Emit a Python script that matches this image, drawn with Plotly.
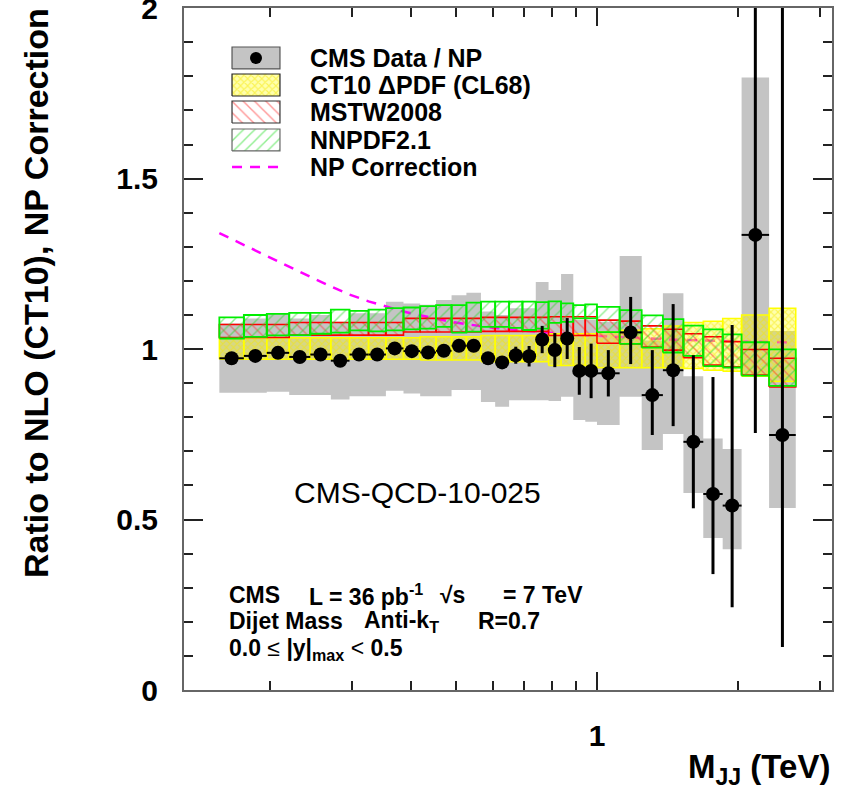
import numpy as np
import plotly.graph_objects as go

# ---------------- data ----------------
# dijet mass bin edges (TeV)
edges = [0.156, 0.176, 0.197, 0.220, 0.244, 0.270, 0.296, 0.325, 0.354, 0.386,
         0.419, 0.453, 0.489, 0.526, 0.565, 0.606, 0.649, 0.693, 0.740, 0.788,
         0.838, 0.890, 0.944, 1.000, 1.118, 1.246, 1.383, 1.530, 1.687, 1.856,
         2.037, 2.332, 2.659]

data_ratio = [0.973, 0.980, 0.989, 0.977, 0.984, 0.966, 0.984, 0.984, 1.002, 0.994,
              0.990, 0.995, 1.010, 1.010, 0.973, 0.961, 0.982, 0.979, 1.028, 0.997,
              1.031, 0.936, 0.936, 0.929, 1.049, 0.865, 0.938, 0.728, 0.575, 0.541,
              1.335, 0.748]
stat_up = [0.006, 0.006, 0.006, 0.006, 0.006, 0.006, 0.006, 0.006, 0.006, 0.006,
           0.006, 0.006, 0.008, 0.010, 0.012, 0.015, 0.025, 0.030, 0.040, 0.050,
           0.060, 0.070, 0.080, 0.068, 0.104, 0.132, 0.194, 0.254, 0.343, 0.530,
           0.900, 1.500]
stat_dn = [0.006, 0.006, 0.006, 0.006, 0.006, 0.006, 0.006, 0.006, 0.006, 0.006,
           0.006, 0.006, 0.008, 0.010, 0.012, 0.015, 0.025, 0.030, 0.040, 0.050,
           0.060, 0.070, 0.080, 0.068, 0.093, 0.117, 0.164, 0.195, 0.235, 0.298,
           0.581, 0.622]
sys_lo = [0.872, 0.872, 0.875, 0.865, 0.865, 0.852, 0.862, 0.862, 0.878, 0.870,
          0.862, 0.862, 0.880, 0.880, 0.845, 0.831, 0.850, 0.850, 0.850, 0.848,
          0.860, 0.792, 0.787, 0.777, 0.860, 0.704, 0.751, 0.578, 0.446, 0.413,
          0.921, 0.534]
sys_hi = [1.075, 1.090, 1.105, 1.090, 1.100, 1.080, 1.105, 1.105, 1.139, 1.134,
          1.130, 1.144, 1.158, 1.165, 1.110, 1.100, 1.120, 1.120, 1.197, 1.173,
          1.220, 1.085, 1.085, 1.080, 1.273, 1.025, 1.164, 0.920, 0.738, 0.707,
          1.797, 1.053]
ct10_lo = [0.970, 0.970, 0.970, 0.970, 0.970, 0.970, 0.970, 0.970, 0.970, 0.970,
           0.968, 0.968, 0.968, 0.968, 0.963, 0.963, 0.963, 0.963, 0.963, 0.952,
           0.952, 0.952, 0.952, 0.945, 0.945, 0.945, 0.945, 0.943, 0.938, 0.935,
           0.920, 0.905]
ct10_hi = [1.033, 1.033, 1.033, 1.033, 1.033, 1.033, 1.033, 1.033, 1.033, 1.033,
           1.036, 1.036, 1.036, 1.036, 1.040, 1.040, 1.040, 1.040, 1.040, 1.045,
           1.045, 1.045, 1.045, 1.050, 1.055, 1.060, 1.068, 1.078, 1.082, 1.090,
           1.100, 1.120]
mstw_lo = [1.034, 1.034, 1.034, 1.041, 1.041, 1.041, 1.041, 1.041, 1.041, 1.050,
           1.050, 1.050, 1.050, 1.050, 1.052, 1.052, 1.052, 1.052, 1.052, 1.040,
           1.040, 1.040, 1.040, 1.017, 1.015, 1.006, 0.997, 0.975, 0.953, 0.948,
           0.924, 0.889]
mstw_hi = [1.072, 1.072, 1.072, 1.078, 1.078, 1.078, 1.078, 1.078, 1.078, 1.090,
           1.090, 1.090, 1.090, 1.090, 1.093, 1.093, 1.093, 1.093, 1.093, 1.095,
           1.095, 1.095, 1.095, 1.085, 1.082, 1.068, 1.058, 1.045, 1.036, 1.022,
           0.999, 0.973]
nnpdf_lo = [1.031, 1.036, 1.040, 1.041, 1.045, 1.048, 1.055, 1.052, 1.055, 1.058,
            1.060, 1.065, 1.048, 1.051, 1.065, 1.065, 1.062, 1.056, 1.060, 1.077,
            1.080, 1.090, 1.090, 1.050, 1.015, 1.004, 0.990, 0.980, 0.950, 0.946,
            0.922, 0.892]
nnpdf_hi = [1.093, 1.100, 1.103, 1.106, 1.106, 1.116, 1.112, 1.116, 1.120, 1.122,
            1.126, 1.129, 1.129, 1.136, 1.139, 1.139, 1.139, 1.139, 1.138, 1.140,
            1.134, 1.129, 1.131, 1.124, 1.114, 1.099, 1.088, 1.069, 1.058, 1.043,
            1.020, 0.999]
np_corr = [1.340, 1.305, 1.272, 1.242, 1.212, 1.184, 1.160, 1.140, 1.124, 1.110,
           1.099, 1.089, 1.080, 1.073, 1.067, 1.062, 1.058, 1.054, 1.051, 1.048,
           1.045, 1.043, 1.040, 1.038, 1.035, 1.032, 1.029, 1.027, 1.025, 1.023,
           1.022, 1.021, 1.020]

legend_labels = ["CMS Data / NP", "CT10 \u0394PDF (CL68)", "MSTW2008", "NNPDF2.1", "NP Correction"]
y_ticks = [0, 0.5, 1, 1.5, 2]
y_ticktext = ["0", "0.5", "1", "1.5", "2"]
x_ticks = [1]
x_ticktext = ["1"]
x_minor = [0.2, 0.3, 0.4, 0.5, 0.6, 0.7, 0.8, 0.9, 2, 3]

# ---------------- helpers ----------------
FONT = "Liberation Sans"
CLEAR = "rgba(255,255,255,0)"
lo_e = np.array(edges[:-1])
hi_e = np.array(edges[1:])
centers = np.sqrt(lo_e * hi_e)


def boxes(lo_list, hi_list):
    xs, ys = [], []
    for i in range(len(lo_list)):
        x0, x1 = edges[i], edges[i + 1]
        xs += [x0, x1, x1, x0, x0, None]
        ys += [lo_list[i], lo_list[i], hi_list[i], hi_list[i], lo_list[i], None]
    return xs, ys


fig = go.Figure()

# systematic (gray) boxes
gx, gy = boxes(sys_lo, sys_hi)
fig.add_trace(go.Scatter(x=gx, y=gy, mode="lines", fill="toself", fillcolor="#c4c4c4",
                         line=dict(width=0, color="#c4c4c4"), hoverinfo="skip", showlegend=False))

# NP correction (drawn beneath the PDF bands)
np_line = dict(color="#ff00ff", width=2.5, dash="10px,8px")
fig.add_trace(go.Scatter(x=edges, y=np_corr, mode="lines", line=np_line,
                         hoverinfo="skip", showlegend=False))

# CT10 yellow band
yx, yy = boxes(ct10_lo, ct10_hi)
yellow_fill = "rgba(255,255,0,0.32)"
yellow_pat = dict(shape="x", size=5, solidity=0.4, fgcolor="#f5e800", fillmode="overlay")
fig.add_trace(go.Scatter(x=yx, y=yy, mode="lines", fill="toself",
                         fillcolor=yellow_fill, fillpattern=yellow_pat,
                         line=dict(width=1.5, color="#ffff00"), hoverinfo="skip", showlegend=False))

# MSTW red band
rx, ry = boxes(mstw_lo, mstw_hi)
red_pat = dict(shape="\\", size=8, solidity=0.18, fgcolor="#ff3030", bgcolor=CLEAR)
fig.add_trace(go.Scatter(x=rx, y=ry, mode="lines", fill="toself", fillcolor=CLEAR, fillpattern=red_pat,
                         line=dict(width=1.6, color="#ff0000"), hoverinfo="skip", showlegend=False))

# NNPDF green band
nx, ny = boxes(nnpdf_lo, nnpdf_hi)
green_pat = dict(shape="/", size=8, solidity=0.18, fgcolor="#22dd22", bgcolor=CLEAR)
fig.add_trace(go.Scatter(x=nx, y=ny, mode="lines", fill="toself", fillcolor=CLEAR, fillpattern=green_pat,
                         line=dict(width=1.8, color="#00ee00"), hoverinfo="skip", showlegend=False))

# data points
ratio = np.array(data_ratio)
fig.add_trace(go.Scatter(
    x=centers, y=ratio, mode="markers",
    marker=dict(color="black", size=14),
    error_y=dict(type="data", symmetric=False, array=stat_up, arrayminus=stat_dn,
                 color="black", thickness=3, width=0),
    error_x=dict(type="data", symmetric=False, array=hi_e - centers, arrayminus=centers - lo_e,
                 color="black", thickness=2, width=0),
    hoverinfo="skip", showlegend=False))

# ---------------- hand-made legend (on an overlay axis in plot fractions) ----------------
sw_x0, sw_x1 = 0.0741, 0.1481
row_y = [0.9267, 0.8871, 0.8475, 0.8065, 0.7669]
half_h = 0.0161


def swatch(yc):
    return ([sw_x0, sw_x1, sw_x1, sw_x0, sw_x0], [yc - half_h, yc - half_h, yc + half_h, yc + half_h, yc - half_h])


sx, sy = swatch(row_y[0])
fig.add_trace(go.Scatter(x=sx, y=sy, xaxis="x2", yaxis="y2", mode="lines", fill="toself",
                         fillcolor="#c4c4c4", line=dict(color="#555", width=1.2),
                         hoverinfo="skip", showlegend=False))
fig.add_trace(go.Scatter(x=[(sw_x0 + sw_x1) / 2], y=[row_y[0]], xaxis="x2", yaxis="y2", mode="markers",
                         marker=dict(color="black", size=12), hoverinfo="skip", showlegend=False))
sx, sy = swatch(row_y[1])
fig.add_trace(go.Scatter(x=sx, y=sy, xaxis="x2", yaxis="y2", mode="lines", fill="toself",
                         fillcolor=yellow_fill, fillpattern=yellow_pat,
                         line=dict(color="#222", width=1.2), hoverinfo="skip", showlegend=False))
sx, sy = swatch(row_y[2])
fig.add_trace(go.Scatter(x=sx, y=sy, xaxis="x2", yaxis="y2", mode="lines", fill="toself",
                         fillcolor=CLEAR, fillpattern=red_pat, line=dict(color="#333", width=1.2),
                         hoverinfo="skip", showlegend=False))
sx, sy = swatch(row_y[3])
fig.add_trace(go.Scatter(x=sx, y=sy, xaxis="x2", yaxis="y2", mode="lines", fill="toself",
                         fillcolor=CLEAR, fillpattern=green_pat, line=dict(color="#666", width=1.2),
                         hoverinfo="skip", showlegend=False))
fig.add_trace(go.Scatter(x=[sw_x0, sw_x1], y=[row_y[4], row_y[4]], xaxis="x2", yaxis="y2", mode="lines",
                         line=np_line, hoverinfo="skip", showlegend=False))

annotations = []
for lab, yc in zip(legend_labels, row_y):
    annotations.append(dict(x=0.191, y=yc, xref="paper", yref="paper", text="<b>%s</b>" % lab,
                            showarrow=False, xanchor="left", yanchor="middle",
                            font=dict(family=FONT, size=25, color="black")))

# info text: (text, x, y, anchor)
info = [
    ("<b>CMS</b>", 0.0664, 0.1400, "left"),
    ("<b>L = 36 pb<sup>-1</sup></b>", 0.1898, 0.1400, "left"),
    ("<b>\u221as</b>", 0.392, 0.1400, "left"),
    ("<b>= 7 TeV</b>", 0.6188, 0.1400, "right"),
    ("<b>Dijet Mass</b>", 0.0664, 0.1005, "left"),
    ("<b>Anti-k<sub>T</sub></b>", 0.2747, 0.1005, "left"),
    ("<b>R=0.7</b>", 0.5525, 0.1005, "right"),
    ("<b>0.0</b> \u2264 <b>|y|<sub>max</sub></b> &lt; <b>0.5</b>", 0.0664, 0.0600, "left"),
]
for t, x, y, anc in info:
    annotations.append(dict(x=x, y=y, xref="paper", yref="paper", text=t, showarrow=False,
                            xanchor=anc, yanchor="middle",
                            font=dict(family=FONT, size=23, color="black")))

annotations.append(dict(x=0.3596, y=0.2903, xref="paper", yref="paper", text="CMS-QCD-10-025",
                        showarrow=False, xanchor="center", yanchor="middle",
                        font=dict(family=FONT, size=30, color="black")))
annotations.append(dict(x=1.0, y=-0.116, xref="paper", yref="paper", text="<b>M<sub>JJ</sub> (TeV)</b>",
                        showarrow=False, xanchor="right", yanchor="middle",
                        font=dict(family=FONT, size=33, color="black")))
annotations.append(dict(x=-0.2284, y=0.582, xref="paper", yref="paper",
                        text="<b>Ratio to NLO (CT10), NP Correction</b>", textangle=-90,
                        showarrow=False, xanchor="center", yanchor="middle",
                        font=dict(family=FONT, size=34, color="black")))

fig.update_layout(
    width=853, height=791,
    margin=dict(l=184, r=21, t=8, b=101, autoexpand=False),
    paper_bgcolor="white", plot_bgcolor="white",
    showlegend=False,
    xaxis=dict(type="log", range=[np.log10(0.1311), np.log10(3.178)], automargin=False,
               tickmode="array", tickvals=x_ticks, ticktext=["<b>%s</b>" % t for t in x_ticktext],
               ticks="inside", ticklen=18, tickwidth=2, tickcolor="#222",
               ticklabelstandoff=18,
               minor=dict(tickvals=x_minor, ticks="inside", ticklen=9, tickwidth=1.5, tickcolor="#222"),
               showline=True, linecolor="#666", linewidth=2, mirror="ticks",
               showgrid=False, zeroline=False,
               tickfont=dict(family=FONT, size=30, color="black")),
    yaxis=dict(range=[0, 2.0005], automargin=False, tickmode="array", tickvals=y_ticks,
               ticktext=["<b>%s</b>" % t for t in y_ticktext],
               ticks="inside", ticklen=19, tickwidth=2, tickcolor="#222",
               ticklabelstandoff=18, ticklabeloverflow="allow",
               minor=dict(dtick=0.1, tick0=0, ticks="inside", ticklen=9, tickwidth=1.5, tickcolor="#222"),
               showline=True, linecolor="#666", linewidth=2, mirror="ticks",
               showgrid=False, zeroline=False,
               tickfont=dict(family=FONT, size=30, color="black")),
    xaxis2=dict(overlaying="x", anchor="y2", range=[0, 1], visible=False, fixedrange=True),
    yaxis2=dict(overlaying="y", anchor="x2", range=[0, 1], visible=False, fixedrange=True),
    annotations=annotations,
)

fig.write_html("out.html")
